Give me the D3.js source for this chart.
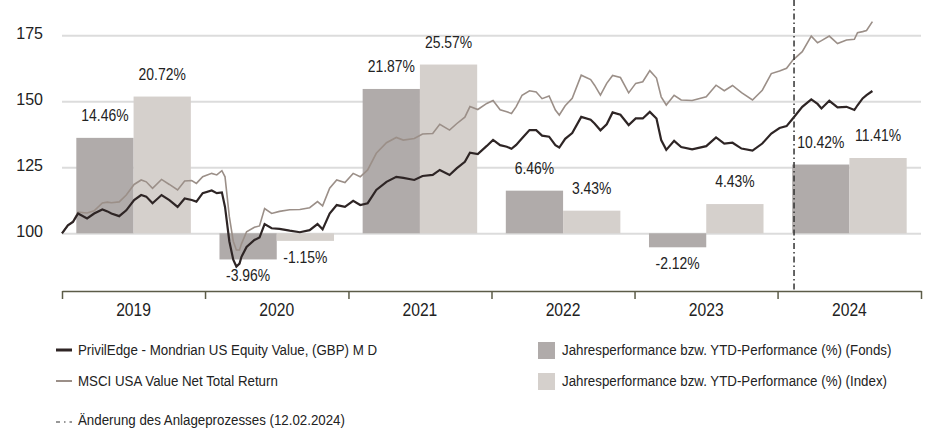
<html>
<head>
<style>
    body { margin: 0; background: #fff; }
    svg text { fill: #222; font-family: "Liberation Sans", Arial, sans-serif; }
</style>
</head>
<body>
    <svg id="chart" width="928" height="428"></svg>
</body>
<script src="https://cdn.jsdelivr.net/npm/d3@7"></script>
<script>
    // yearly bars (%)
    let years = ["2019", "2020", "2021", "2022", "2023", "2024"]
    let fundPerf = [14.46, -3.96, 21.87, 6.46, -2.12, 10.42]
    let indexPerf = [20.72, -1.15, 25.57, 3.43, 4.43, 11.41]

    // indexed performance lines (start = 100)
    let dates = ["2019-01-01", "2019-01-16", "2019-01-29", "2019-02-11", "2019-03-06", "2019-03-24", "2019-04-14", "2019-04-27",
        "2019-05-07", "2019-05-27", "2019-06-14", "2019-07-04", "2019-07-22", "2019-08-04", "2019-08-20", "2019-09-12",
        "2019-10-02", "2019-10-23", "2019-11-10", "2019-11-28", "2019-12-10", "2019-12-26", "2020-01-18", "2020-01-31",
        "2020-02-13", "2020-02-21", "2020-03-03", "2020-03-13", "2020-03-21", "2020-03-29", "2020-04-03", "2020-04-16",
        "2020-05-06", "2020-05-19", "2020-06-01", "2020-06-19", "2020-07-09", "2020-08-04", "2020-08-30", "2020-09-24",
        "2020-10-14", "2020-10-27", "2020-11-14", "2020-12-02", "2020-12-23", "2021-01-13", "2021-01-31", "2021-02-19",
        "2021-03-13", "2021-04-08", "2021-05-03", "2021-05-21", "2021-06-18", "2021-07-09", "2021-08-04", "2021-08-22",
        "2021-09-16", "2021-10-04", "2021-10-25", "2021-11-07", "2021-11-27", "2021-12-20", "2022-01-05", "2022-01-23",
        "2022-02-09", "2022-02-21", "2022-03-05", "2022-03-20", "2022-04-08", "2022-04-25", "2022-05-10", "2022-05-28",
        "2022-06-13", "2022-06-23", "2022-07-08", "2022-07-26", "2022-08-18", "2022-09-11", "2022-09-21", "2022-10-06",
        "2022-10-22", "2022-11-06", "2022-11-26", "2022-12-17", "2023-01-04", "2023-01-22", "2023-02-09", "2023-02-26",
        "2023-03-10", "2023-03-23", "2023-04-12", "2023-04-30", "2023-05-28", "2023-07-03", "2023-07-28", "2023-08-18",
        "2023-09-08", "2023-10-01", "2023-10-29", "2023-11-23", "2023-12-16", "2024-01-06", "2024-01-24", "2024-02-09",
        "2024-03-04", "2024-03-27", "2024-04-12", "2024-04-22", "2024-05-12", "2024-06-02", "2024-06-25", "2024-07-15",
        "2024-07-23", "2024-08-05", "2024-08-15", "2024-08-30"]
    let fundLine = [100, 103, 104.3, 107.5, 105.6, 107.5, 109, 108.3, 107.5, 106.5, 108.7, 112.6, 114.5, 113.9, 111.4, 114.5,
        112.6, 110, 113.2, 112.6, 112, 115.2, 116.2, 115.2, 115.5, 110, 97, 90, 87.4, 88.5, 91.1, 94.8,
        97.5, 98.4, 103.5, 101.9, 101.7, 101, 100.4, 101.2, 103.5, 101.5, 107.5, 110.7, 110, 112.3, 110.7, 111.4,
        116.4, 119.5, 121.4, 121, 120.2, 121.7, 122.1, 124, 122.1, 124.6, 127.1, 130.5, 130, 133.1, 135.4, 133.4,
        132.8, 132, 133.5, 136, 139.1, 139.1, 137, 136.6, 133.4, 132.5, 135.8, 138, 144.1, 143, 141.6, 139,
        141.3, 145.8, 144.9, 141, 143.5, 143.5, 146, 143.5, 135.3, 131.6, 135, 132.7, 131.8, 133, 136.3, 134,
        134.3, 132.1, 131.3, 134, 137.8, 139.9, 140.6, 143.5, 147.9, 150.7, 149, 147.3, 150.2, 147.7, 147.9, 146.7,
        148.5, 151.1, 152.3, 153.9]
    let indexLine = [100, 103, 104.5, 108, 107.7, 108.5, 111.5, 111.8, 111.6, 111.9, 114.5, 118.5, 120.2, 119.5, 117, 120.4,
        118.5, 116.4, 119.8, 120, 118.9, 121.4, 122.7, 122.1, 123.7, 121.4, 106.3, 97, 93.7, 93.7, 96, 100.6,
        102.3, 102.8, 109.4, 107.5, 108.3, 108.9, 109, 109.7, 112, 110.4, 117.1, 120.2, 119.2, 122.7, 121.4, 124,
        130.3, 134.3, 136.3, 135.3, 135.9, 137.6, 137.8, 141.3, 139.1, 141.5, 144, 148, 146.9, 149.2, 150.3, 146.8,
        146, 145.4, 148, 152.3, 154, 153.5, 151, 152, 146.7, 144.8, 148.3, 151.1, 159.9, 158.2, 156.1, 152.3,
        156.8, 159.8, 159, 153.2, 156.8, 157.4, 161.6, 158.8, 151.7, 148.6, 152.3, 150.5, 150.3, 151.7, 156.1, 154,
        156, 153.3, 150.5, 154.2, 160.5, 161.5, 162.5, 165.6, 168.8, 174.7, 172.2, 173, 174.7, 171.9, 173.2, 173.5,
        176, 176.4, 176.8, 180.2]

    let yTicks = [100, 125, 150, 175]
    let changeDate = "2024-02-12"
    let lineLabels = ["PrivilEdge - Mondrian US Equity Value, (GBP) M D", "MSCI USA Value Net Total Return"]
    let barLabels = ["Jahresperformance bzw. YTD-Performance (%) (Fonds)", "Jahresperformance bzw. YTD-Performance (%) (Index)"]
    let changeLabel = "Änderung des Anlageprozesses (12.02.2024)"

    let fundColor = "#2e2525"
    let indexColor = "#9b8f88"
    let fundBar = "#b0abaa"
    let indexBar = "#d5d0cc"

    let svg = d3.select("#chart")
    let parse = d3.timeParse("%Y-%m-%d")

    // no condensed face installed, so squeeze the glyphs horizontally
    function squeeze(sel, k) {
        sel.each(function () {
            let w = this.getComputedTextLength()
            d3.select(this).attr("textLength", w * k).attr("lengthAdjust", "spacingAndGlyphs")
        })
    }

    let x = d3.scaleTime()
        .domain([new Date(2019, 0, 1), new Date(2025, 0, 1)])
        .range([62, 921])
    let y = d3.scaleLinear()
        .domain([100, 175])
        .range([233.3, 35.3])
    // bar axis: 0..30% maps onto 100..175
    let yBar = d3.scaleLinear()
        .domain([0, 30])
        .range([y(100), y(175)])

    let yearBand = d3.scaleBand()
        .domain(years)
        .range([62, 921])
        .paddingInner(0.2)
        .paddingOuter(0.1)
    let seriesBand = d3.scaleBand()
        .domain(["fund", "index"])
        .range([0, yearBand.bandwidth()])

    // gridlines + y labels
    let yAxis = d3.axisLeft(y)
        .tickValues(yTicks)
        .tickSize(-(921 - 62))
        .tickPadding(19)
    let gy = svg.append("g")
        .attr("transform", "translate(62,0)")
        .call(yAxis)
    gy.select(".domain").remove()
    gy.selectAll("line").attr("stroke", "#dcdcdc").attr("stroke-width", 2)
    gy.selectAll("text")
        .attr("dy", "0.22em")
        .style("font-family", "'Liberation Sans', Arial, sans-serif")
        .style("font-size", "16px")
        .style("fill", "#222")

    // bars
    let barData = []
    years.forEach((yr, i) => {
        barData.push({ year: yr, key: "fund", v: fundPerf[i] })
        barData.push({ year: yr, key: "index", v: indexPerf[i] })
    })
    svg.append("g").selectAll("rect")
        .data(barData)
        .enter()
        .append("rect")
        .attr("x", d => yearBand(d.year) + seriesBand(d.key))
        .attr("width", seriesBand.bandwidth())
        .attr("y", d => Math.min(yBar(d.v), yBar(0)))
        .attr("height", d => Math.abs(yBar(d.v) - yBar(0)))
        .attr("fill", d => d.key == "fund" ? fundBar : indexBar)

    svg.append("g").selectAll("text")
        .data(barData)
        .enter()
        .append("text")
        .attr("x", d => yearBand(d.year) + seriesBand(d.key) + seriesBand.bandwidth() / 2)
        .attr("y", d => d.v >= 0 ? yBar(d.v) - 17 : yBar(d.v) + 22)
        .attr("text-anchor", "middle")
        .style("font-size", "16px")
        .text(d => d.v.toFixed(2) + "%")
        .call(squeeze, 0.87)

    // lines
    let lineGen = d3.line()
        .x(d => x(d.date))
        .y(d => y(d.v))
    let fundPts = dates.map((d, i) => ({ date: parse(d), v: fundLine[i] }))
    let indexPts = dates.map((d, i) => ({ date: parse(d), v: indexLine[i] }))

    svg.append("path")
        .datum(indexPts)
        .attr("d", lineGen)
        .attr("fill", "none")
        .attr("stroke", indexColor)
        .attr("stroke-width", 1.6)
    svg.append("path")
        .datum(fundPts)
        .attr("d", lineGen)
        .attr("fill", "none")
        .attr("stroke", fundColor)
        .attr("stroke-width", 2.2)

    // x axis
    let yearStarts = d3.range(2019, 2026).map(yr => new Date(yr, 0, 1))
    let xAxis = d3.axisBottom(x)
        .tickValues(yearStarts)
        .tickSize(8)
        .tickSizeOuter(0)
        .tickFormat("")
    let gx = svg.append("g")
        .attr("transform", "translate(0,291)")
        .call(xAxis)
    gx.selectAll("line, path").attr("stroke", "#5c5c48").attr("stroke-width", 1.5)

    svg.append("g").selectAll("text")
        .data(years)
        .enter()
        .append("text")
        .attr("x", d => yearBand(d) + yearBand.bandwidth() / 2)
        .attr("y", 316)
        .attr("text-anchor", "middle")
        .style("font-size", "18px")
        .text(d => d)
        .call(squeeze, 0.87)

    // change of investment process
    svg.append("line")
        .attr("x1", x(parse(changeDate)))
        .attr("x2", x(parse(changeDate)))
        .attr("y1", 0)
        .attr("y2", 290)
        .attr("stroke", "#333")
        .attr("stroke-width", 1.5)
        .attr("stroke-dasharray", "6,3,1.5,3")

    // legend
    let legend = svg.append("g").style("font-size", "14px")
    let lineColors = [fundColor, indexColor]
    let lineWidths = [3, 2]
    lineLabels.forEach((t, i) => {
        let ly = 350 + i * 31
        legend.append("line")
            .attr("x1", 56).attr("x2", 72)
            .attr("y1", ly).attr("y2", ly)
            .attr("stroke", lineColors[i])
            .attr("stroke-width", lineWidths[i])
        legend.append("text")
            .attr("x", 78).attr("y", ly + 5)
            .text(t)
    })
    let barColors = [fundBar, indexBar]
    barLabels.forEach((t, i) => {
        let ly = 350 + i * 31
        legend.append("rect")
            .attr("x", 538).attr("y", ly - 8)
            .attr("width", 17).attr("height", 17)
            .attr("fill", barColors[i])
        legend.append("text")
            .attr("x", 562).attr("y", ly + 5)
            .text(t)
    })
    legend.append("line")
        .attr("x1", 56).attr("x2", 72)
        .attr("y1", 422).attr("y2", 422)
        .attr("stroke", "#333")
        .attr("stroke-width", 1.2)
        .attr("stroke-dasharray", "4,4,1.5,4")
    legend.append("text")
        .attr("x", 78).attr("y", 425)
        .text(changeLabel)
    legend.selectAll("text").call(squeeze, 0.95)
</script>
</html>
